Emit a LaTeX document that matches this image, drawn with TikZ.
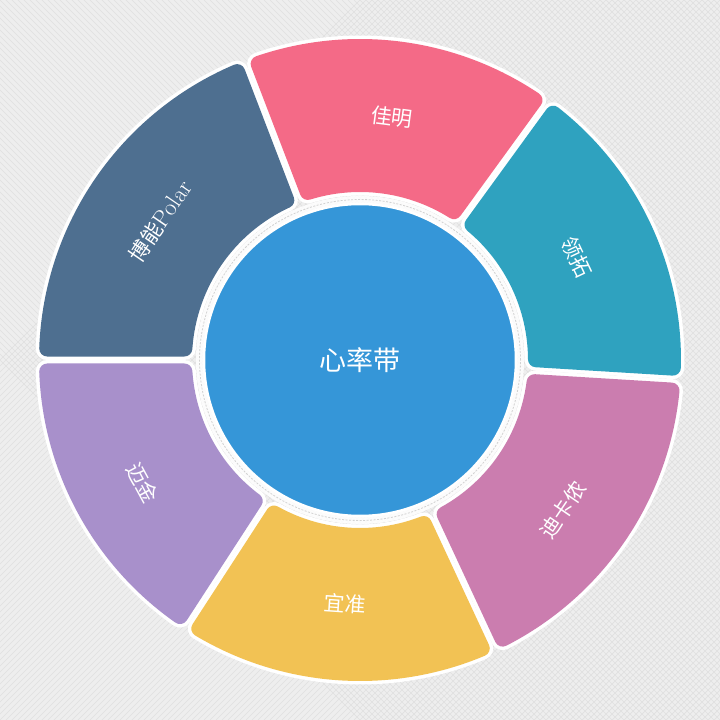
\documentclass[tikz,border=0pt]{standalone}
\usepackage{fontspec}
\newfontfamily\cjk{Noto Sans CJK SC}
\definecolor{bgcol}{HTML}{EEEEEE}
\definecolor{hatchcol}{HTML}{E0E0E0}
\definecolor{cjm}{HTML}{F46A87}
\definecolor{clt}{HTML}{2FA2BF}
\definecolor{cdk}{HTML}{CB7DAF}
\definecolor{cyz}{HTML}{F2C254}
\definecolor{cmj}{HTML}{A890CB}
\definecolor{cbn}{HTML}{4E6F90}
\definecolor{ccen}{HTML}{3596D8}
% core of a ring segment (shrunk sector), rounded later by a thick round-joined stroke
\newcommand\segcore[3]{%
  \filldraw[#3] ({#1+3.744}:176pt) -- ({#1+2.105}:313pt)
    arc[start angle={#1+2.105}, end angle={#2-2.105}, radius=313pt] -- ({#2-3.744}:176pt)
    arc[start angle={#2-3.744}, end angle={#1+3.744}, radius=176pt] -- cycle;}
\begin{document}
\begin{tikzpicture}[x=1pt,y=1pt,
  lbl/.style={text=white, font=\cjk\fontsize{21}{25}\selectfont, inner sep=1pt},
  whitecore/.style={draw=white, fill=white, line width=23pt, line join=round},
  colcore/.style={draw=#1, fill=#1, line width=16pt, line join=round},
  hatch/.style={draw=hatchcol, line width=0.7pt}]
\useasboundingbox (-360,-360) rectangle (360,360);
\fill[bgcol] (-360,-360) rectangle (360,360);
\begin{scope}
  \clip (-360,-360) rectangle (360,360);
  \foreach \i in {-720,-714,...,360} {
    \draw[hatch] (\i pt,-360pt) -- ++(720pt,720pt);
    \draw[hatch] (\i pt,360pt) -- ++(720pt,-720pt);
  }
\end{scope}
% white borders of ring segments
\segcore{-3.5}{54}{whitecore}
\segcore{54}{111}{whitecore}
\segcore{111}{180}{whitecore}
\segcore{180}{237}{whitecore}
\segcore{237}{295}{whitecore}
\segcore{295}{356.5}{whitecore}
% coloured ring segments
\segcore{-3.5}{54}{colcore=clt}
\segcore{54}{111}{colcore=cjm}
\segcore{111}{180}{colcore=cbn}
\segcore{180}{237}{colcore=cmj}
\segcore{237}{295}{colcore=cyz}
\segcore{295}{356.5}{colcore=cdk}
% gap ring with dashed line
\fill[white, opacity=0.85] (0,0) circle (164pt);
\draw[gray!35, line width=0.8pt, dash pattern=on 2pt off 1.5pt] (0,0) circle (160.5pt);
% center
\node[circle, fill=ccen, draw=white, line width=2.5pt, minimum size=312pt, inner sep=0pt,
      text=white, font=\cjk\fontsize{27}{32}\selectfont] (c) at (0,0) {心率带};
% labels
\node[lbl, rotate=-7.5] (jm) at (82.5:245pt) {佳明};
\node[lbl, rotate=-64.75] (lt) at (25.3:240pt) {领拓};
\node[lbl, rotate=55.75] (dk) at (-36.5:252pt) {迪卡侬};
\node[lbl, rotate=-4] (yz) at (266.5:244pt) {宜准};
\node[lbl, rotate=-61.5] (mj) at (209.5:250pt) {迈金};
\node[lbl, rotate=55.5] (bn) at (145.2:243pt) {博能{\rmfamily\fontsize{24}{28}\selectfont Polar}};
\end{tikzpicture}
\end{document}
